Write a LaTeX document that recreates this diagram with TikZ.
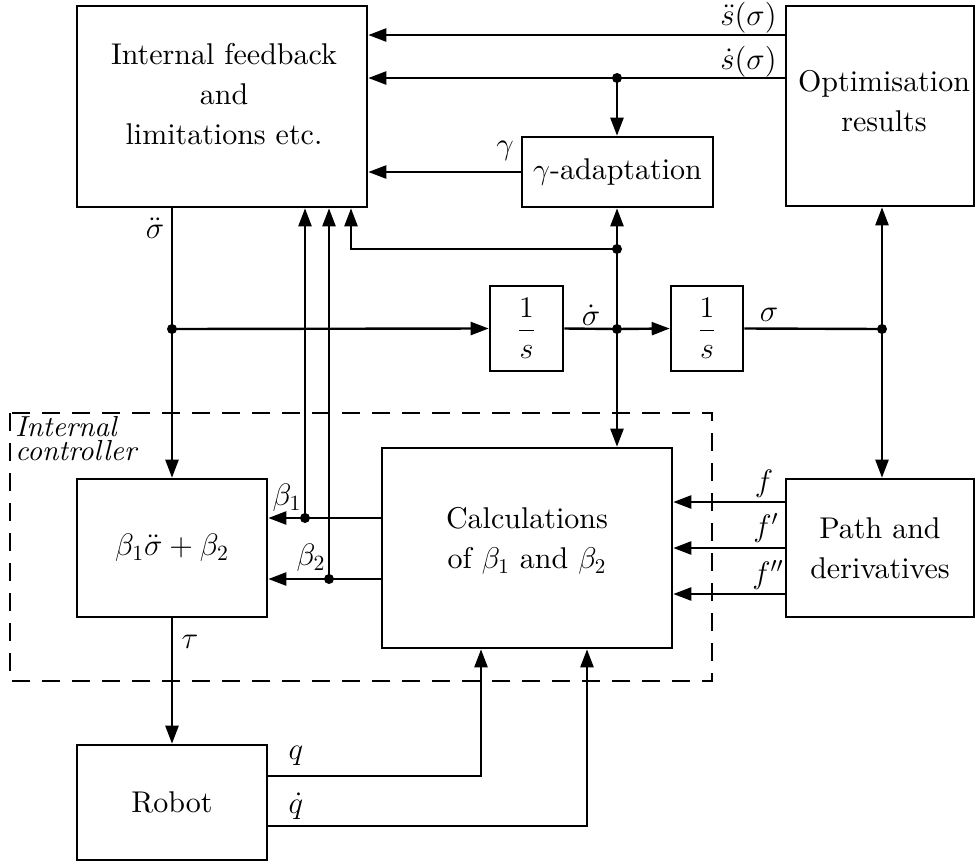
\RequirePackage{fix-cm}
\documentclass[tikz,border=0pt]{standalone}
\usepackage{fontspec}
\setmainfont{lmroman10-regular.otf}[ItalicFont=lmroman10-italic.otf,BoldFont=lmroman10-bold.otf]
\usetikzlibrary{arrows.meta}
\begin{document}
\begin{tikzpicture}[x=0.5pt,y=-0.5pt,
  blk/.style={draw,line width=1.3pt,inner sep=0pt},
  txt/.style={align=center,font=\fontsize{15}{20}\selectfont},
  lbl/.style={inner sep=1pt,font=\fontsize{15.5}{16}\selectfont},
  ln/.style={line width=1.2pt},
  arr/.style={line width=1.2pt,-{Triangle[length=9pt,width=6.5pt]}},
  dot/.style={circle,fill,inner sep=0pt,minimum size=5pt}]
\useasboundingbox (0,0) rectangle (976,863);
% blocks
\node[blk,minimum width=145pt,minimum height=100.5pt] (fb) at (222,106.5) {};
\node[txt] (fbt) at (224,94) {Internal feedback\\and\\limitations etc.};
\node[blk,minimum width=94pt,minimum height=100pt] (opt) at (880,106) {};
\node[txt] (optt) at (884,101) {Optimisation\\results};
\node[blk,minimum width=95.5pt,minimum height=35pt,txt] (gam) at (617.5,172) {$\gamma$-adaptation};
\node[blk,minimum width=36.5pt,minimum height=42.5pt,txt] (s1) at (526.5,328.5) {$\displaystyle\frac{1}{s}$};
\node[blk,minimum width=36pt,minimum height=42.5pt,txt] (s2) at (707,328.5) {$\displaystyle\frac{1}{s}$};
\node[blk,minimum width=95pt,minimum height=69pt,font=\fontsize{15.5}{20}\selectfont] (bb) at (172,548) {$\beta_1\ddot\sigma+\beta_2$};
\node[blk,minimum width=145pt,minimum height=100pt] (calc) at (527,548) {};
\node[txt] (calct) at (527,541) {Calculations\\of $\beta_1$ and $\beta_2$};
\node[blk,minimum width=94pt,minimum height=69pt,txt] (path) at (880,548) {Path and\\derivatives};
\node[blk,minimum width=95pt,minimum height=57.5pt,txt] (robot) at (172,802.5) {Robot};
% internal controller frame
\draw[line width=1.2pt,dash pattern=on 9pt off 6pt] (10,413) rectangle (712,681);
\node[anchor=north west,align=left,inner sep=1pt,font=\itshape\fontsize{14.5}{12}\selectfont] (ic) at (13,414) {Internal\\controller};
% coordinates
\coordinate (dsd) at (617,78);
\coordinate (dg) at (617,249);
\coordinate (dsig) at (617,329);
\coordinate (dacc) at (172,329);
\coordinate (dpos) at (882,329);
\coordinate (db1) at (305,518);
\coordinate (db2) at (329,579);
\coordinate (kg) at (351,249);
\coordinate (kq) at (481,776);
\coordinate (kqd) at (587,826);
% top signals
\draw[arr] (opt.west |- 0,35) -- (fb.east |- 0,35);
\draw[arr] (opt.west |- dsd) -- (dsd) -- (fb.east |- dsd);
\draw[arr] (dsd) -- (gam.north -| dsd);
\draw[arr] (gam.west) -- (fb.east |- gam.west);
\draw[arr] (dsig) -- (dg) -- (gam.south -| dg);
\draw[arr] (dg) -- (kg) -- (kg |- fb.south);
% sigma chain
\draw[arr] (fb.south -| dacc) -- (dacc) -- (bb.north);
\draw[arr] (dacc) -- (s1.west);
\draw[arr] (s1.east) -- (dsig) -- (s2.west);
\draw[ln] (s2.east) -- (dpos);
\draw[arr] (dpos) -- (opt.south -| dpos);
\draw[arr] (dpos) -- (path.north -| dpos);
\draw[arr] (dsig) -- (calc.north -| dsig);
% beta
\draw[arr] (calc.west |- db1) -- (db1) -- (bb.east |- db1);
\draw[arr] (db1) -- (db1 |- fb.south);
\draw[arr] (calc.west |- db2) -- (db2) -- (bb.east |- db2);
\draw[arr] (db2) -- (db2 |- fb.south);
% path
\draw[arr] (path.west |- 0,502) -- (calc.east |- 0,502);
\draw[arr] (path.west |- 0,548) -- (calc.east |- 0,548);
\draw[arr] (path.west |- 0,594) -- (calc.east |- 0,594);
% robot
\draw[arr] (bb.south) -- (robot.north);
\draw[arr] (robot.east |- kq) -- (kq) -- (kq |- calc.south);
\draw[arr] (robot.east |- kqd) -- (kqd) -- (kqd |- calc.south);
% dots
\foreach \p in {dsd,dg,dsig,dacc,dpos,db1,db2} \node[dot] at (\p) {};
% labels
\node[lbl,anchor=east] (l1) at (779,18) {$\ddot s(\sigma)$};
\node[lbl,anchor=east] (l2) at (779,62) {$\dot s(\sigma)$};
\node[lbl] (l3) at (505,151) {$\gamma$};
\node[lbl] (l4) at (155,228) {$\ddot\sigma$};
\node[lbl] (l5) at (591,315) {$\dot\sigma$};
\node[lbl] (l6) at (769,315) {$\sigma$};
\node[lbl] (l7) at (287,498) {$\beta_1$};
\node[lbl] (l8) at (311,558) {$\beta_2$};
\node[lbl] (l9) at (764,484) {$f$};
\node[lbl] (l10) at (766,528) {$f'$};
\node[lbl] (l11) at (768,575) {$f''$};
\node[lbl] (l12) at (190,642) {$\tau$};
\node[lbl] (l13) at (296,756) {$q$};
\node[lbl] (l14) at (296,806) {$\dot q$};
\end{tikzpicture}
\end{document}
